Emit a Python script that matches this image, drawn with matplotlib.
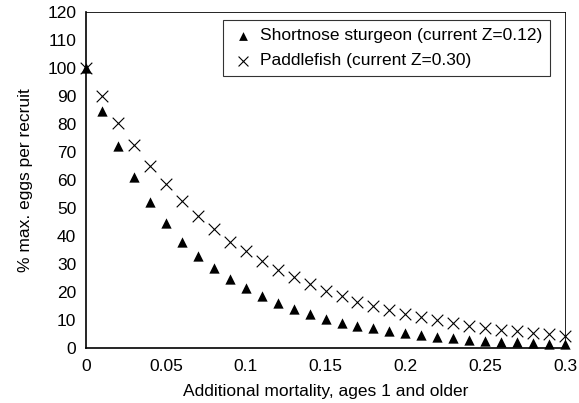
import matplotlib
matplotlib.use("Agg")
import matplotlib.pyplot as plt

plt.rcParams['font.family'] = ['Liberation Sans', 'DejaVu Sans']

mortality = [0.00, 0.01, 0.02, 0.03, 0.04, 0.05, 0.06, 0.07, 0.08, 0.09, 0.10,
             0.11, 0.12, 0.13, 0.14, 0.15, 0.16, 0.17, 0.18, 0.19, 0.20,
             0.21, 0.22, 0.23, 0.24, 0.25, 0.26, 0.27, 0.28, 0.29, 0.30]

sturgeon = [100, 84.5, 72, 61, 52, 44.5, 38, 33, 28.5, 24.5, 21.5,
            18.5, 16, 14, 12, 10.5, 9, 8, 7, 6, 5.2,
            4.5, 4, 3.5, 3, 2.6, 2.3, 2, 1.7, 1.5, 1.3]

paddlefish = [100, 90, 80.5, 72.5, 65, 58.5, 52.5, 47, 42.5, 38, 34.5,
              31, 28, 25.5, 23, 20.5, 18.5, 16.5, 15, 13.5, 12,
              11, 10, 9, 8, 7.3, 6.6, 6, 5.4, 4.9, 4.4]

xticks = [0, 0.05, 0.1, 0.15, 0.2, 0.25, 0.3]
xtick_labels = ['0', '0.05', '0.1', '0.15', '0.2', '0.25', '0.3']
yticks = list(range(0, 121, 10))

fig = plt.figure(figsize=(5.79, 4.03), dpi=100)
ax = fig.add_axes([0.1485, 0.1365, 0.8275, 0.8335])

ax.scatter(mortality, sturgeon, marker='^', s=55, color='black', linewidths=0,
           label='Shortnose sturgeon (current Z=0.12)', clip_on=False, zorder=3)
ax.scatter(mortality, paddlefish, marker='x', s=70, color='black', linewidths=0.8,
           label='Paddlefish (current Z=0.30)', clip_on=False, zorder=3)

ax.set_xlim(0, 0.3)
ax.set_ylim(0, 120)
ax.set_xticks(xticks)
ax.set_xticklabels(xtick_labels)
ax.set_yticks(yticks)
ax.tick_params(axis='both', length=0, labelsize=12.5)
ax.tick_params(axis='y', pad=7)
ax.tick_params(axis='x', pad=8)

for side in ['left', 'bottom']:
    ax.spines[side].set_linewidth(1.2)
for side in ['top', 'right']:
    ax.spines[side].set_linewidth(0.6)

ax.set_xlabel('Additional mortality, ages 1 and older', fontsize=12.5, labelpad=7)
ax.set_ylabel('% max. eggs per recruit', fontsize=12.5, labelpad=10)

leg = ax.legend(loc='upper right', bbox_to_anchor=(0.968, 0.975), frameon=True,
                fancybox=False, edgecolor='black', fontsize=12.5, handletextpad=0.25,
                handlelength=1.4, borderpad=0.45, labelspacing=0.55, borderaxespad=0,
                markerscale=0.85)
leg.get_frame().set_linewidth(0.8)

fig.savefig('out.png', dpi=100)
